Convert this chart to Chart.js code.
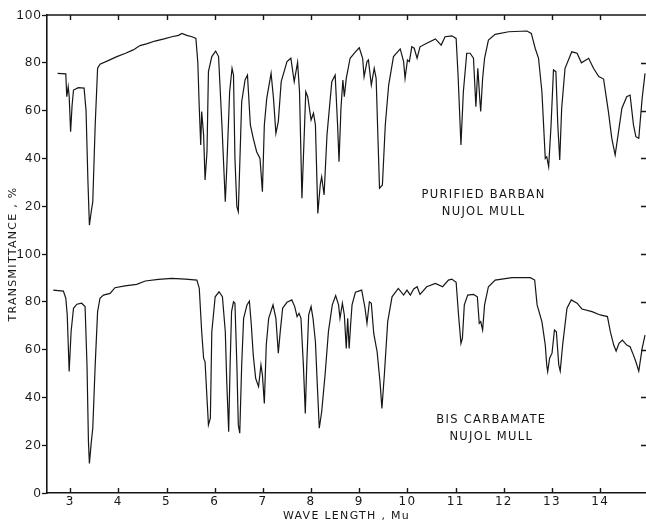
<!DOCTYPE html>
<html>
<head>
<meta charset="utf-8">
<script src="https://cdn.jsdelivr.net/npm/chart.js@4.4.1/dist/chart.umd.min.js"></script>
<style>
  html, body { margin: 0; padding: 0; background: #fff; }
  #wrap { width: 646px; height: 525px; }
</style>
</head>
<body>
<div id="wrap"><canvas id="ir" width="646" height="525"></canvas></div>
<script>
// wavelength ticks (microns) and transmittance ticks on the stacked axis
const waveTicks = [3, 4, 5, 6, 7, 8, 9, 10, 11, 12, 13, 14];
const transTicks = [0, 20, 40, 60, 80, 100, 120, 140, 160, 180, 200];

// upper trace: purified barban (drawn 100 units higher)
const barbanWave = [2.74, 2.91, 2.93, 2.96, 2.98, 3.01, 3.04, 3.07, 3.17, 3.29, 3.33, 3.37, 3.40, 3.44, 3.47, 3.52, 3.57, 3.62, 3.80, 3.97,
  4.15, 4.31, 4.45, 4.60, 4.76, 4.95, 5.11, 5.25, 5.32, 5.42, 5.53, 5.61, 5.65, 5.68, 5.71, 5.73, 5.77, 5.80, 5.84, 5.87,
  5.94, 6.02, 6.08, 6.15, 6.22, 6.25, 6.31, 6.36, 6.39, 6.42, 6.46, 6.49, 6.56, 6.63, 6.68, 6.74, 6.80, 6.87, 6.94, 6.99,
  7.03, 7.08, 7.17, 7.22, 7.27, 7.32, 7.38, 7.50, 7.58, 7.65, 7.72, 7.76, 7.81, 7.84, 7.89, 7.93, 8.00, 8.05, 8.09, 8.14,
  8.19, 8.22, 8.27, 8.33, 8.43, 8.50, 8.55, 8.58, 8.62, 8.66, 8.69, 8.73, 8.81, 8.92, 9.00, 9.07, 9.10, 9.16, 9.19, 9.25,
  9.31, 9.35, 9.39, 9.42, 9.48, 9.54, 9.61, 9.71, 9.85, 9.92, 9.95, 10.00, 10.04, 10.09, 10.14, 10.20, 10.26, 10.40, 10.58, 10.70,
  10.78, 10.92, 11.01, 11.05, 11.11, 11.16, 11.23, 11.30, 11.37, 11.42, 11.46, 11.50, 11.52, 11.56, 11.60, 11.68, 11.82, 12.10, 12.48, 12.57,
  12.65, 12.72, 12.79, 12.86, 12.89, 12.93, 12.98, 13.03, 13.08, 13.12, 13.16, 13.20, 13.27, 13.41, 13.52, 13.61, 13.76, 13.86, 13.97, 14.07,
  14.17, 14.24, 14.31, 14.38, 14.45, 14.55, 14.62, 14.69, 14.74, 14.80, 14.87, 14.93];
const barbanT = [75.6, 75.4, 65.8, 70.0, 66.0, 51.2, 62.0, 68.6, 69.6, 69.4, 60.0, 30.0, 12.1, 18.0, 21.9, 54.0, 77.7, 79.4, 81.0, 82.6,
  84.0, 85.4, 87.2, 88.0, 89.1, 90.0, 90.9, 91.5, 92.3, 91.5, 90.9, 90.2, 80.0, 61.0, 45.6, 59.6, 49.8, 31.0, 42.8, 76.3,
  82.6, 84.9, 82.6, 54.0, 21.9, 35.8, 67.9, 77.7, 74.9, 40.0, 19.8, 17.7, 63.7, 72.8, 74.9, 54.0, 48.4, 42.8, 40.0, 26.1,
  54.0, 65.1, 75.6, 65.1, 50.5, 55.4, 72.1, 80.5, 81.9, 72.1, 80.2, 67.9, 23.3, 40.0, 67.9, 65.8, 56.1, 58.9, 54.0, 17.0,
  28.9, 32.3, 24.7, 49.8, 72.1, 74.9, 54.0, 38.6, 61.0, 72.8, 65.8, 73.5, 81.9, 84.6, 86.3, 81.9, 74.2, 80.5, 81.2, 70.7,
  77.7, 73.5, 47.0, 27.5, 28.9, 54.0, 70.7, 82.6, 85.8, 80.5, 73.5, 81.2, 80.5, 86.7, 86.1, 81.9, 86.7, 88.2, 90.0, 87.4,
  90.9, 91.3, 90.2, 74.9, 45.6, 67.9, 84.0, 84.0, 81.9, 61.6, 77.7, 65.1, 59.6, 73.5, 81.9, 89.5, 91.9, 93.0, 93.3, 92.3,
  86.1, 81.9, 67.9, 40.0, 40.7, 36.5, 54.0, 77.0, 76.3, 54.0, 39.3, 61.0, 77.7, 84.6, 84.0, 80.0, 81.9, 77.7, 74.2, 73.2,
  59.6, 48.4, 41.4, 51.2, 61.0, 65.8, 66.5, 54.0, 49.1, 48.4, 65.1, 75.6];

// lower trace: bis carbamate
const carbWave = [2.65, 2.86, 2.91, 2.94, 2.98, 3.02, 3.07, 3.14, 3.24, 3.31, 3.35, 3.38, 3.40, 3.44, 3.47, 3.52, 3.57, 3.62, 3.69, 3.83,
  3.93, 4.14, 4.38, 4.56, 4.83, 5.11, 5.39, 5.63, 5.68, 5.73, 5.77, 5.80, 5.84, 5.87, 5.91, 5.94, 6.01, 6.09, 6.16, 6.22,
  6.25, 6.29, 6.32, 6.35, 6.39, 6.42, 6.46, 6.49, 6.52, 6.56, 6.60, 6.67, 6.72, 6.76, 6.80, 6.85, 6.91, 6.96, 6.99, 7.03,
  7.07, 7.12, 7.21, 7.27, 7.32, 7.36, 7.41, 7.50, 7.60, 7.66, 7.71, 7.75, 7.79, 7.84, 7.88, 7.91, 7.95, 8.00, 8.04, 8.09,
  8.12, 8.17, 8.22, 8.29, 8.36, 8.44, 8.51, 8.57, 8.60, 8.65, 8.69, 8.73, 8.76, 8.79, 8.82, 8.85, 8.92, 9.05, 9.12, 9.16,
  9.21, 9.25, 9.30, 9.37, 9.43, 9.47, 9.52, 9.59, 9.68, 9.81, 9.92, 9.99, 10.06, 10.13, 10.20, 10.26, 10.40, 10.58, 10.73, 10.85,
  10.92, 11.01, 11.06, 11.11, 11.14, 11.18, 11.25, 11.37, 11.45, 11.49, 11.52, 11.56, 11.60, 11.68, 11.82, 12.17, 12.55, 12.64, 12.69, 12.79,
  12.86, 12.89, 12.91, 12.95, 13.00, 13.05, 13.09, 13.14, 13.17, 13.22, 13.31, 13.40, 13.52, 13.62, 13.83, 14.00, 14.15, 14.21, 14.28, 14.33,
  14.39, 14.46, 14.55, 14.62, 14.69, 14.74, 14.80, 14.87, 14.93];
const carbT = [84.9, 84.5, 81.5, 74.5, 50.8, 67.5, 77.3, 79.0, 79.4, 78.0, 53.6, 21.5, 12.4, 21.5, 27.1, 53.6, 75.9, 81.5, 82.8, 83.5,
  85.9, 86.7, 87.3, 88.7, 89.4, 89.8, 89.5, 89.1, 85.6, 67.5, 56.4, 54.9, 39.6, 28.5, 31.3, 67.5, 82.1, 84.2, 82.1, 67.5,
  46.6, 25.6, 53.6, 75.9, 80.0, 79.4, 53.6, 28.5, 25.0, 53.6, 73.1, 78.7, 80.3, 70.3, 57.7, 48.0, 44.5, 53.6, 49.4, 37.5,
  61.9, 73.1, 78.7, 73.1, 58.5, 67.5, 77.3, 79.8, 80.8, 78.0, 73.8, 75.2, 73.1, 53.6, 33.3, 53.6, 74.5, 78.0, 73.1, 63.3,
  49.4, 27.1, 34.0, 49.4, 67.5, 78.7, 82.6, 78.7, 73.1, 79.4, 74.5, 60.5, 73.1, 60.5, 70.3, 78.7, 84.0, 84.9, 77.3, 71.0,
  80.0, 79.4, 66.8, 59.1, 46.6, 35.4, 49.4, 71.7, 82.1, 85.6, 82.8, 84.9, 82.8, 85.4, 86.3, 83.1, 86.3, 87.7, 86.3, 89.1,
  89.5, 88.2, 74.5, 62.6, 64.7, 78.7, 82.8, 83.1, 82.1, 71.0, 71.7, 68.2, 78.7, 86.3, 89.1, 90.1, 90.1, 89.1, 78.7, 71.7,
  61.9, 53.6, 50.8, 56.4, 58.5, 68.2, 67.5, 53.6, 51.0, 61.9, 77.3, 80.8, 79.4, 77.0, 75.9, 74.5, 73.8, 67.5, 61.9, 59.4,
  62.6, 64.0, 61.9, 61.2, 57.7, 54.9, 51.0, 60.5, 66.1];

const panelOffset = 100;
const notes = [
  ['PURIFIED BARBAN', 'NUJOL MULL'],
  ['BIS CARBAMATE', 'NUJOL MULL']
];

const fontFamily = '"DejaVu Sans", sans-serif';
const ink = '#161616';

// the original plate is hand lettered with wide spacing
const lettering = {
  id: 'lettering',
  beforeDraw(chart) {
    chart.ctx.letterSpacing = '1.3px';
  }
};

// inward ticks on the bottom/top/right edges, top border, and the sample notes
const frame = {
  id: 'frame',
  afterDraw(chart, args, opts) {
    const { ctx, chartArea: a, scales: { x, y } } = chart;
    ctx.save();
    ctx.strokeStyle = ink;
    ctx.lineWidth = 1.4;
    ctx.beginPath();
    ctx.moveTo(a.left, a.top);
    ctx.lineTo(a.right, a.top);
    x.ticks.forEach(t => {
      const px = Math.round(x.getPixelForValue(t.value)) + 0.5;
      ctx.moveTo(px, a.bottom);
      ctx.lineTo(px, a.bottom - 5);
      ctx.moveTo(px, a.top);
      ctx.lineTo(px, a.top + 5);
    });
    y.ticks.forEach(t => {
      if (t.value === 0 || t.value === 200) return;
      const py = Math.round(y.getPixelForValue(t.value)) + 0.5;
      ctx.moveTo(a.right - 5, py);
      ctx.lineTo(a.right, py);
    });
    ctx.stroke();

    ctx.fillStyle = ink;
    ctx.font = '11.5px ' + fontFamily;
    ctx.textAlign = 'center';
    ctx.textBaseline = 'middle';
    opts.spots.forEach((s, i) => {
      const px = x.getPixelForValue(s.x);
      const py = y.getPixelForValue(s.y);
      notes[i].forEach((line, j) => ctx.fillText(line, px, py + j * 17));
    });
    ctx.restore();
  }
};

new Chart(document.getElementById('ir').getContext('2d'), {
  type: 'line',
  data: {
    datasets: [
      {
        label: 'Purified barban',
        data: barbanWave.map((w, i) => ({ x: w, y: barbanT[i] + panelOffset })),
        borderColor: ink,
        borderWidth: 1.2,
        pointRadius: 0,
        tension: 0
      },
      {
        label: 'Bis carbamate',
        data: carbWave.map((w, i) => ({ x: w, y: carbT[i] })),
        borderColor: ink,
        borderWidth: 1.2,
        pointRadius: 0,
        tension: 0
      }
    ]
  },
  options: {
    responsive: false,
    animation: false,
    devicePixelRatio: 1,
    layout: { padding: { top: 15, left: 0, right: 0, bottom: 0 } },
    plugins: {
      legend: { display: false },
      tooltip: { enabled: false },
      frame: {
        spots: [
          { x: 11.58, y: 124.7 },
          { x: 11.74, y: 30.5 }
        ]
      }
    },
    scales: {
      x: {
        type: 'linear',
        min: 2.52,
        max: 14.95,
        afterBuildTicks: s => { s.ticks = waveTicks.map(v => ({ value: v })); },
        afterFit: s => { s.height = 32; },
        grid: { drawOnChartArea: false, drawTicks: false },
        border: { display: true, color: ink, width: 1.6 },
        ticks: {
          padding: 2,
          color: ink,
          font: { family: fontFamily, size: 12 },
          maxRotation: 0
        },
        title: {
          display: true,
          text: 'WAVE LENGTH , Mu',
          color: ink,
          font: { family: fontFamily, size: 11 },
          padding: { top: 0, bottom: 2 }
        }
      },
      y: {
        min: 0,
        max: 200,
        afterBuildTicks: s => { s.ticks = transTicks.map(v => ({ value: v })); },
        afterFit: s => { s.width = 47; },
        grid: { drawOnChartArea: false, tickLength: 5, color: ink, tickWidth: 1.3 },
        border: { display: true, color: ink, width: 1.6 },
        ticks: {
          padding: 0,
          color: ink,
          font: { family: '"Liberation Sans", sans-serif', size: 13 },
          callback: v => (v > panelOffset ? v - panelOffset : v)
        },
        title: {
          display: true,
          text: 'TRANSMITTANCE , %',
          color: ink,
          font: { family: fontFamily, size: 11 },
          padding: { top: 7, bottom: 0 }
        }
      }
    }
  },
  plugins: [lettering, frame]
});
</script>
</body>
</html>
